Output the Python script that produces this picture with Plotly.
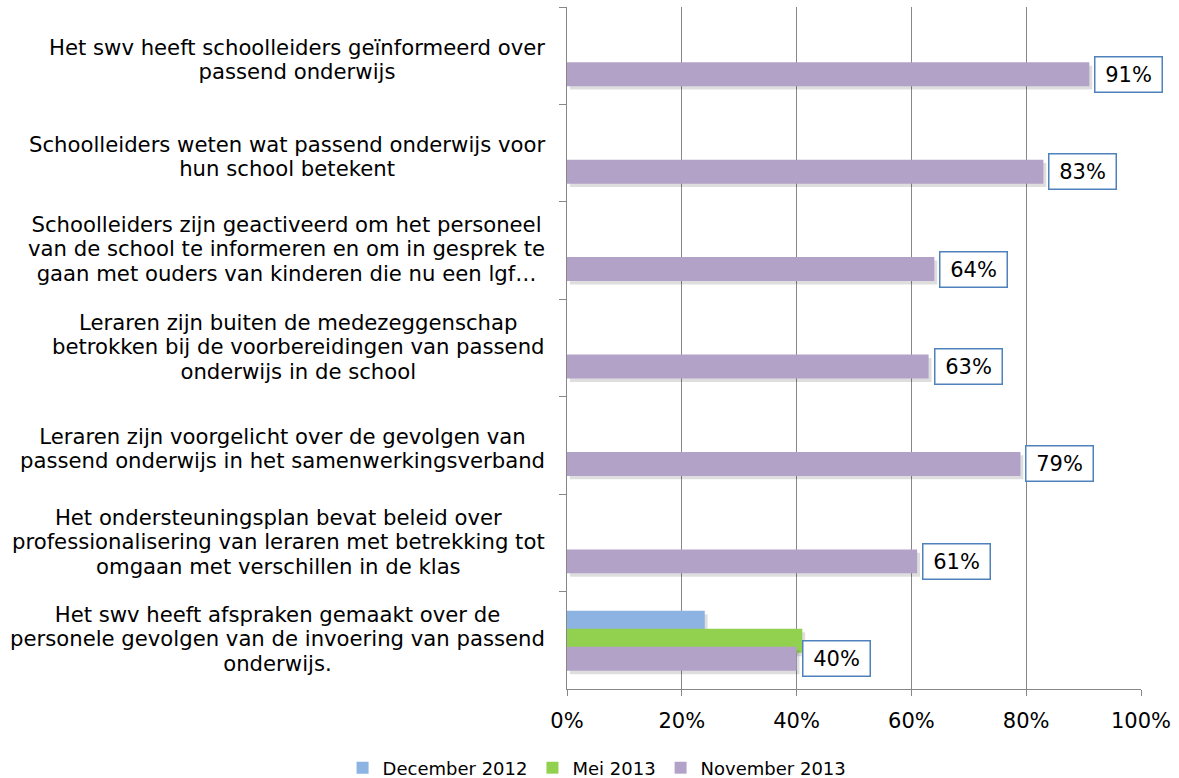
import plotly.graph_objects as go

categories = [
    "Het swv heeft schoolleiders geïnformeerd over<br>passend onderwijs",
    "Schoolleiders weten wat passend onderwijs voor<br>hun school betekent",
    "Schoolleiders zijn geactiveerd om het personeel<br>van de school te informeren en om in gesprek te<br>gaan met ouders van kinderen die nu een lgf…",
    "Leraren zijn buiten de medezeggenschap<br>betrokken bij de voorbereidingen van passend<br>onderwijs in de school",
    "Leraren zijn voorgelicht over de gevolgen van<br>passend onderwijs in het samenwerkingsverband",
    "Het ondersteuningsplan bevat beleid over<br>professionalisering van leraren met betrekking tot<br>omgaan met verschillen in de klas",
    "Het swv heeft afspraken gemaakt over de<br>personele gevolgen van de invoering van passend<br>onderwijs.",
]
series_names = ["December 2012", "Mei 2013", "November 2013"]
dec_2012 = [None, None, None, None, None, None, 0.24]
mei_2013 = [None, None, None, None, None, None, 0.41]
nov_2013 = [0.91, 0.83, 0.64, 0.63, 0.79, 0.61, 0.40]
x_ticks = [0, 0.2, 0.4, 0.6, 0.8, 1.0]

colors = ["#8DB3E2", "#92D050", "#B3A2C7"]
FONT = "Verdana, DejaVu Sans, sans-serif"
GRID = "#878787"

BAR_W = 0.246
offsets = [-0.303, -0.118, 0.067]
series = [dec_2012, mei_2013, nov_2013]

fig = go.Figure()
for name, vals, col, off in zip(series_names, series, colors, offsets):
    # soft shadow
    fig.add_trace(go.Bar(
        y=categories, x=vals, orientation="h", base=0.005,
        offset=off + 0.035, width=BAR_W,
        marker=dict(color="rgba(0,0,0,0.13)", line=dict(width=0)),
        showlegend=False, hoverinfo="skip",
    ))
    fig.add_trace(go.Bar(
        y=categories, x=vals, orientation="h", name=name,
        offset=off, width=BAR_W,
        marker=dict(color=col, line=dict(width=0)),
    ))

annotations = []
# category labels (centered multi-line, tighter line spacing via base font size)
for c in categories:
    lines = c.split("<br>")
    txt = "<br>".join(f'<span style="font-size:21.2px">{ln}</span>' for ln in lines)
    annotations.append(dict(
        x=0, xref="paper", y=c, yref="y", text=txt, showarrow=False,
        xanchor="right", yanchor="middle", align="center", xshift=-20,
        yshift=-3.3 if len(lines) == 2 else 1.3,
        font=dict(family=FONT, size=18.8, color="#000000"),
    ))
# data labels
for c, v in zip(categories, nov_2013):
    annotations.append(dict(
        x=v, xref="x", y=c, yref="y", text=f"{round(v*100)}%", showarrow=False,
        xanchor="left", yanchor="middle", xshift=5, yshift=-18.5,
        width=56, align="center",
        bgcolor="#FFFFFF", bordercolor="#4F81BD", borderwidth=1.5, borderpad=5,
        font=dict(family=FONT, size=21, color="#000000"),
    ))

fig.update_layout(
    width=1179, height=778,
    margin=dict(l=567, r=38, t=7, b=89, autoexpand=False),
    paper_bgcolor="#FFFFFF", plot_bgcolor="#FFFFFF",
    barmode="overlay",
    font=dict(family=FONT, size=20, color="#000000"),
    showlegend=True,
    legend=dict(
        orientation="h", x=0.0524, xanchor="center", y=-0.1158, yanchor="middle",
        font=dict(family=FONT, size=18, color="#000000"),
        traceorder="normal",
    ),
    annotations=annotations,
    xaxis=dict(
        range=[0, 1], tickvals=x_ticks, tickformat=".0%",
        showgrid=True, gridcolor=GRID, gridwidth=1.3,
        zeroline=False, showline=True, linecolor=GRID, linewidth=1.3,
        ticks="outside", ticklen=6, tickcolor=GRID, tickwidth=1.3,
        ticklabelstandoff=7,
        tickfont=dict(family=FONT, size=21, color="#000000"),
    ),
    yaxis=dict(
        type="category", categoryarray=categories, range=[6.5, -0.5],
        showticklabels=False, showgrid=False, zeroline=False,
        showline=True, linecolor=GRID, linewidth=1.3,
        ticks="outside", ticklen=7, tickcolor=GRID, tickwidth=1.3,
        tickson="boundaries",
    ),
)

fig.write_html("out.html")
